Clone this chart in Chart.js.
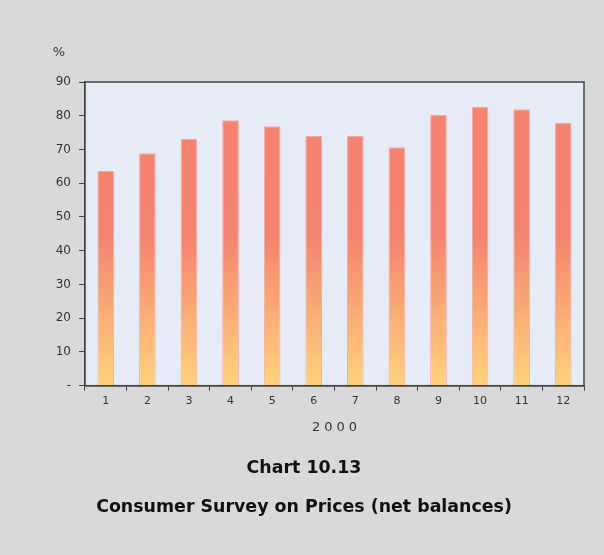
<!DOCTYPE html>
<html>
<head>
<meta charset="utf-8">
<script src="https://cdn.jsdelivr.net/npm/chart.js@4"></script>
<style>
  html,body{margin:0;padding:0;background:#d9d9d9;}
  #wrap{width:604px;height:555px;position:relative;}
</style>
</head>
<body>
<div id="wrap"><canvas id="c" width="604" height="555"></canvas></div>
<script>
// consumer survey on prices, net balances, monthly 2000
const months = ['1','2','3','4','5','6','7','8','9','10','11','12'];
const netBalance = [63.6, 68.9, 73.1, 78.7, 76.9, 74.0, 74.0, 70.7, 80.3, 82.7, 81.9, 77.9];
const yearLabel = '2000';
const unitLabel = '%';
const titleLines = ['Chart 10.13', 'Consumer Survey on Prices (net balances)'];

const FONT = "'DejaVu Sans', sans-serif";

function barGradient(ctx){
  const area = ctx.chart.chartArea;
  if(!area) return '#f4836f';
  const g = ctx.chart.ctx.createLinearGradient(0, area.top, 0, area.bottom);
  g.addColorStop(0, '#f4826f');
  g.addColorStop(0.5, '#f4836f');
  g.addColorStop(1, '#ffd27c');
  return g;
}

const frame = {
  id:'frame',
  beforeDatasetsDraw(chart){
    const {ctx, chartArea:a} = chart;
    ctx.save();
    ctx.fillStyle = '#e7ebf6';
    ctx.fillRect(a.left, a.top, a.right-a.left, a.bottom-a.top);
    ctx.restore();
  },
  afterDraw(chart){
    const {ctx, chartArea:a} = chart;
    ctx.save();
    ctx.strokeStyle = '#444';
    ctx.lineWidth = 1.5;
    ctx.strokeRect(a.left, a.top, a.right-a.left, a.bottom-a.top);
    // unit above y axis, year under x axis
    ctx.fillStyle = '#333';
    ctx.font = '13px ' + FONT;
    ctx.textAlign = 'center';
    ctx.textBaseline = 'middle';
    ctx.fillText(unitLabel, a.left - 26, a.top - 29);
    ctx.letterSpacing = '4px';
    ctx.fillText(yearLabel, (a.left+a.right)/2 + 2, a.bottom + 42);
    ctx.restore();
  }
};

new Chart(document.getElementById('c'), {
  type:'bar',
  data:{ labels:months, datasets:[{
    data:netBalance,
    backgroundColor:barGradient,
    borderColor:'#f8aaa2', borderWidth:1,
    barPercentage:0.4, categoryPercentage:1
  }]},
  options:{
    responsive:false, animation:false,
    layout:{padding:{left:24, right:20, top:82, bottom:0}},
    plugins:{
      legend:{display:false}, tooltip:{enabled:false},
      title:{display:true, position:'bottom', text:titleLines, color:'#111',
        font:{family:FONT, size:17.4, weight:'bold', lineHeight:2.25}, padding:{top:0, bottom:28}}
    },
    scales:{
      x:{
        grid:{drawOnChartArea:false, tickLength:5, color:'#444', offset:true},
        border:{color:'#444', width:1.5},
        ticks:{color:'#333', font:{family:FONT, size:11}, padding:4, maxRotation:0},
        afterFit(s){ s.height = 63; }
      },
      y:{
        min:0, max:90,
        grid:{drawOnChartArea:false, tickLength:6, color:'#444'},
        border:{color:'#444', width:1.5},
        ticks:{stepSize:10, color:'#333', font:{family:FONT, size:12}, padding:8,
          callback:v => v===0 ? '-' : v},
        afterFit(s){ s.width = 61; }
      }
    }
  },
  plugins:[frame]
});
</script>
</body>
</html>
